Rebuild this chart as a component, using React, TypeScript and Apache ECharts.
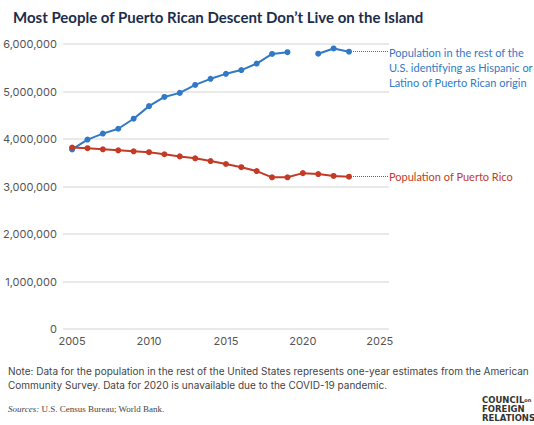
import React, { useEffect, useRef } from "react";
import * as echarts from "echarts";

const years = [2005, 2006, 2007, 2008, 2009, 2010, 2011, 2012, 2013, 2014, 2015, 2016, 2017, 2018, 2019, 2020, 2021, 2022, 2023];
const restOfUS: (number | null)[] = [3781000, 3988000, 4114000, 4216000, 4427000, 4692000, 4886000, 4971000, 5138000, 5267000, 5372000, 5451000, 5588000, 5791000, 5828000, null, 5796000, 5906000, 5838000];
const puertoRico = [3821000, 3806000, 3783000, 3761000, 3741000, 3722000, 3679000, 3634000, 3594000, 3535000, 3474000, 3406000, 3325000, 3193000, 3194000, 3281000, 3262000, 3222000, 3206000];
const xTicks = [2005, 2010, 2015, 2020, 2025];
const blueLabel = "Population in the rest of the\nU.S. identifying as Hispanic or\nLatino of Puerto Rican origin";
const redLabel = "Population of Puerto Rico";

const BLUE = "#3079c6";
const RED = "#c33a25";
const X_MIN = 2004.4;
const X_MAX = 2025.6;

export default function App() {
  const ref = useRef<HTMLDivElement>(null);
  useEffect(() => {
    if (!ref.current) return;
    const chart = echarts.init(ref.current, null, { renderer: "svg" });
    const lastYear = years[years.length - 1];
    const lastBlue = restOfUS[restOfUS.length - 1] as number;
    const lastRed = puertoRico[puertoRico.length - 1];
    chart.setOption({
      animation: false,
      textStyle: { fontFamily: "Inter, 'Noto Sans', sans-serif" },
      title: {
        text: "Most People of Puerto Rican Descent Don\u2019t Live on the Island",
        left: 8,
        top: 4,
        textStyle: { fontSize: 15, fontWeight: 700, color: "#1c2d4b", fontFamily: "Lato, sans-serif" },
      },
      grid: { left: 62, right: 145, top: 44, bottom: 96, containLabel: false },
      xAxis: {
        type: "value",
        min: X_MIN,
        max: X_MAX,
        axisLine: { show: false },
        axisTick: { show: false },
        splitLine: { show: false },
        axisLabel: {
          customValues: xTicks,
          formatter: (v: number) => String(Math.round(v)),
          color: "#555",
          fontSize: 11,
          margin: 6,
        },
      },
      yAxis: {
        type: "value",
        min: 0,
        max: 6000000,
        interval: 1000000,
        axisLine: { show: false },
        axisTick: { show: false },
        splitLine: { lineStyle: { color: "#e2e2e2", width: 1.5 } },
        axisLabel: {
          color: "#555",
          fontSize: 11,
          margin: 6,
          formatter: (v: number) => v.toLocaleString("en-US"),
        },
      },
      series: [
        {
          type: "line",
          data: years.map((y, i) => [y, restOfUS[i]]),
          connectNulls: false,
          symbol: "circle",
          symbolSize: 6,
          itemStyle: { color: BLUE },
          lineStyle: { color: BLUE, width: 2 },
          markLine: {
            silent: true,
            symbol: "none",
            lineStyle: { color: BLUE, type: "dotted", width: 1 },
            label: {
              show: true,
              position: "end",
              formatter: blueLabel,
              color: BLUE,
              fontSize: 11,
              fontFamily: "Lato, sans-serif",
              lineHeight: 15,
              distance: 0,
              verticalAlign: "top",
              offset: [0, -7],
            },
            data: [[{ coord: [lastYear, lastBlue] }, { coord: [X_MAX, lastBlue] }]],
          },
        },
        {
          type: "line",
          data: years.map((y, i) => [y, puertoRico[i]]),
          symbol: "circle",
          symbolSize: 6,
          itemStyle: { color: RED },
          lineStyle: { color: RED, width: 2 },
          markLine: {
            silent: true,
            symbol: "none",
            lineStyle: { color: RED, type: "dotted", width: 1 },
            label: {
              show: true,
              position: "end",
              formatter: redLabel,
              color: RED,
              fontSize: 11,
              fontFamily: "Lato, sans-serif",
              distance: 0,
            },
            data: [[{ coord: [lastYear, lastRed] }, { coord: [X_MAX, lastRed] }]],
          },
        },
      ],
      graphic: [
        {
          type: "text",
          left: 8,
          top: 364,
          style: {
            text: "Note: Data for the population in the rest of the United States represents one-year estimates from the American\nCommunity Survey. Data for 2020 is unavailable due to the COVID-19 pandemic.",
            fill: "#444",
            fontSize: 10,
            lineHeight: 14,
            fontFamily: "Inter, sans-serif",
          },
        },
        {
          type: "text",
          left: 8,
          top: 404,
          style: {
            text: "{i|Sources:} U.S. Census Bureau; World Bank.",
            fill: "#444",
            fontSize: 9,
            fontFamily: "'Liberation Serif', serif",
            rich: { i: { fontStyle: "italic", fontSize: 9, fill: "#444", fontFamily: "'Liberation Serif', serif" } },
          },
        },
        {
          type: "text",
          left: 482,
          top: 395,
          style: {
            text: "COUNCIL{s|on}\nFOREIGN\nRELATIONS",
            fill: "#333",
            fontSize: 8.5,
            fontWeight: 700,
            lineHeight: 9,
            fontFamily: "'DejaVu Sans', sans-serif",
            rich: { s: { fontSize: 5, fill: "#333", fontWeight: 700, fontFamily: "'DejaVu Sans', sans-serif" } },
          },
        },
      ],
    });
    return () => chart.dispose();
  }, []);
  return <div ref={ref} style={{ position: "fixed", left: 0, top: 0, width: 534, height: 425, background: "#fff" }} />;
}
